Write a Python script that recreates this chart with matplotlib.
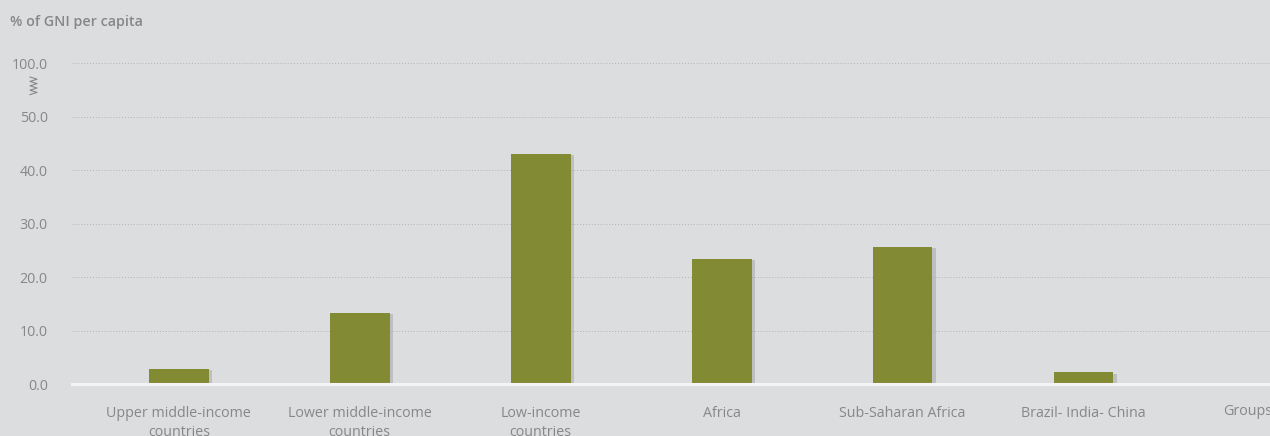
import matplotlib
matplotlib.use("Agg")
import matplotlib.pyplot as plt
import matplotlib.patheffects as pe
from matplotlib.lines import Line2D

# data
categories = ["Upper middle-income\ncountries", "Lower middle-income\ncountries",
              "Low-income\ncountries", "Africa", "Sub-Saharan Africa",
              "Brazil- India- China"]
values = [2.8, 13.3, 43.0, 23.4, 25.6, 2.2]
ytick_vals = [0, 10, 20, 30, 40, 50, 100]
ytick_labels = ["0.0", "10.0", "20.0", "30.0", "40.0", "50.0", "100.0"]

bg = "#dcdddf"
bar_col = "#838a34"
txt_col = "#878787"
font = ["Open Sans", "DejaVu Sans"]
plt.rcParams["font.family"] = font


def brk(v):
  # broken axis: above 50 the scale is compressed 5x
  return v if v <= 50 else 50 + (v - 50) / 5.0


fig = plt.figure(figsize=(12.7, 4.36), dpi=100)
fig.patch.set_facecolor(bg)
ax = fig.add_axes([72/1270, 52/436, 1 - 72/1270, 321/436])
ax.set_facecolor(bg)

x = list(range(len(categories)))
bars = ax.bar(x, values, width=0.33, color=bar_col, zorder=3)
for b in bars:
  b.set_path_effects([pe.SimplePatchShadow(offset=(2.5, -1), shadow_rgbFace="#9a9b9d", alpha=0.45), pe.Normal()])

ax.set_xlim(-0.59, 6.03)
ax.set_ylim(0, 60)

yt = [brk(v) for v in ytick_vals]
for y in yt[1:]:
  ax.axhline(y, color="#b2b2b2", lw=0.7, ls=(0, (1, 2)), zorder=1)
ax.axhline(0, color="#f4f4f4", lw=2.2, zorder=4, clip_on=False)

ax.set_yticks(yt)
ax.set_yticklabels(ytick_labels)
ax.set_xticks(x)
ax.set_xticklabels(categories, linespacing=1.4)
ax.tick_params(axis="y", length=0, pad=17.5, labelsize=10.3, labelcolor=txt_col)
ax.tick_params(axis="x", length=0, pad=15.5, labelsize=10.3, labelcolor=txt_col)
for s in ax.spines.values():
  s.set_visible(False)

fig.text(1223/1270, 1 - 411/436, "Groups", color=txt_col, fontsize=10.3, ha="left", va="center")
fig.text(10/1270, 1 - 22/436, "% of GNI per capita", color=txt_col, fontsize=10.3,
         fontweight="semibold", ha="left", va="center")

# small spring symbol marking the axis break
zx = []
zy = []
for i in range(9):
  zx.append(30 if i % 2 == 0 else 37)
  zy.append(77 + i * 2.2)
fig.add_artist(Line2D([v/1270 for v in zx], [1 - v/436 for v in zy], color=txt_col, lw=0.8))

fig.savefig("out.png", dpi=100, facecolor=bg)
